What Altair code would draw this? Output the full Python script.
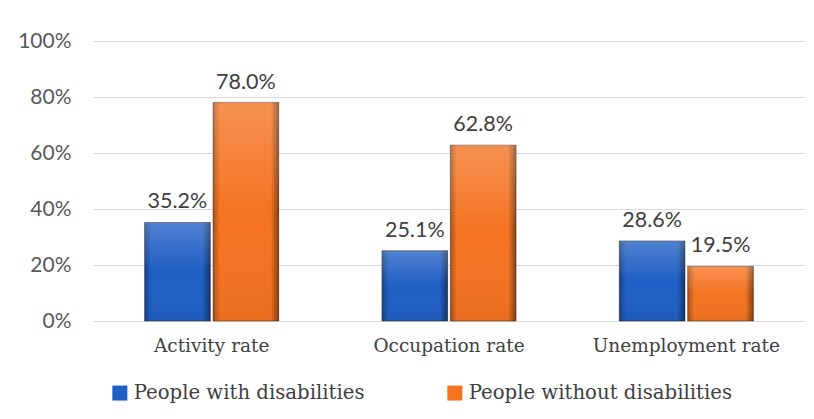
import altair as alt
import pandas as pd

categories = ["Activity rate", "Occupation rate", "Unemployment rate"]
series = ["People with disabilities", "People without disabilities"]
with_dis = [35.2, 25.1, 28.6]
without_dis = [78.0, 62.8, 19.5]

rows = []
for i, c in enumerate(categories):
    rows.append({"category": c, "series": series[0], "value": with_dis[i]})
    rows.append({"category": c, "series": series[1], "value": without_dis[i]})
df = pd.DataFrame(rows)
df["label"] = df["value"].map(lambda v: f"{v:.1f}%")

serif = "DejaVu Serif"
sans = "Lato"

x = alt.X("category:N", sort=categories,
          scale=alt.Scale(paddingInner=0.435, paddingOuter=0.2175),
          axis=alt.Axis(title=None, labelAngle=0, labelFont=serif, labelFontSize=18.5,
                        labelColor="#404040", domain=False, ticks=False, labelPadding=15,
                        labelLimit=400))
xo = alt.XOffset("series:N", sort=series, scale=alt.Scale(paddingInner=0.04))
y = alt.Y("value:Q", scale=alt.Scale(domain=[0, 100]),
          axis=alt.Axis(title=None, values=[0, 20, 40, 60, 80, 100],
                        labelExpr="datum.value + '%'", labelFont=sans, labelFontSize=21,
                        labelColor="#595959", domain=False, ticks=False, labelPadding=22,
                        gridColor="#d9d9d9", gridWidth=1.2, minExtent=85, maxExtent=85))

bars = alt.Chart(df).mark_bar(stroke="#2a1a10", strokeWidth=1, strokeOpacity=0.45).encode(
    x=x, xOffset=xo, y=y,
    color=alt.Color("series:N", sort=series,
                    scale=alt.Scale(domain=series, range=["#1f5fc4", "#f47321"]),
                    legend=alt.Legend(title=None, orient="none", legendX=17, legendY=342,
                                      direction="horizontal", symbolType="square",
                                      symbolSize=225, symbolStrokeWidth=0,
                                      labelFont=serif, labelFontSize=19.7, labelColor="#404040",
                                      labelLimit=400, columnPadding=80, labelOffset=4))
)

shade = alt.Chart(df).mark_bar(
    color=alt.Gradient(
        gradient="linear", x1=0, x2=1, y1=0, y2=0,
        stops=[alt.GradientStop(color="rgba(0,0,0,0.30)", offset=0),
               alt.GradientStop(color="rgba(0,0,0,0)", offset=0.1),
               alt.GradientStop(color="rgba(0,0,0,0)", offset=0.88),
               alt.GradientStop(color="rgba(0,0,0,0.45)", offset=1)])
).encode(x=alt.X("category:N", sort=categories),
         xOffset=alt.XOffset("series:N", sort=series), y="value:Q")

shine = alt.Chart(df).mark_bar(
    color=alt.Gradient(
        gradient="linear", x1=0, x2=0, y1=0, y2=1,
        stops=[alt.GradientStop(color="rgba(255,255,255,0.22)", offset=0),
               alt.GradientStop(color="rgba(255,255,255,0)", offset=0.5),
               alt.GradientStop(color="rgba(0,0,0,0.05)", offset=1)])
).encode(x=alt.X("category:N", sort=categories),
         xOffset=alt.XOffset("series:N", sort=series), y="value:Q")

text = alt.Chart(df).mark_text(baseline="alphabetic", dy=-14, font=sans, fontSize=21.5,
                               color="#404040").encode(
    x=alt.X("category:N", sort=categories), xOffset=alt.XOffset("series:N", sort=series),
    y="value:Q", text="label:N")

chart = alt.layer(bars, shade, shine, text).properties(
    width=712, height=280,
    padding={"left": 0, "top": 22, "right": 1, "bottom": 5},
).configure_view(stroke=None)

chart.save("out.html", embed_options={"renderer": "svg", "actions": False})
